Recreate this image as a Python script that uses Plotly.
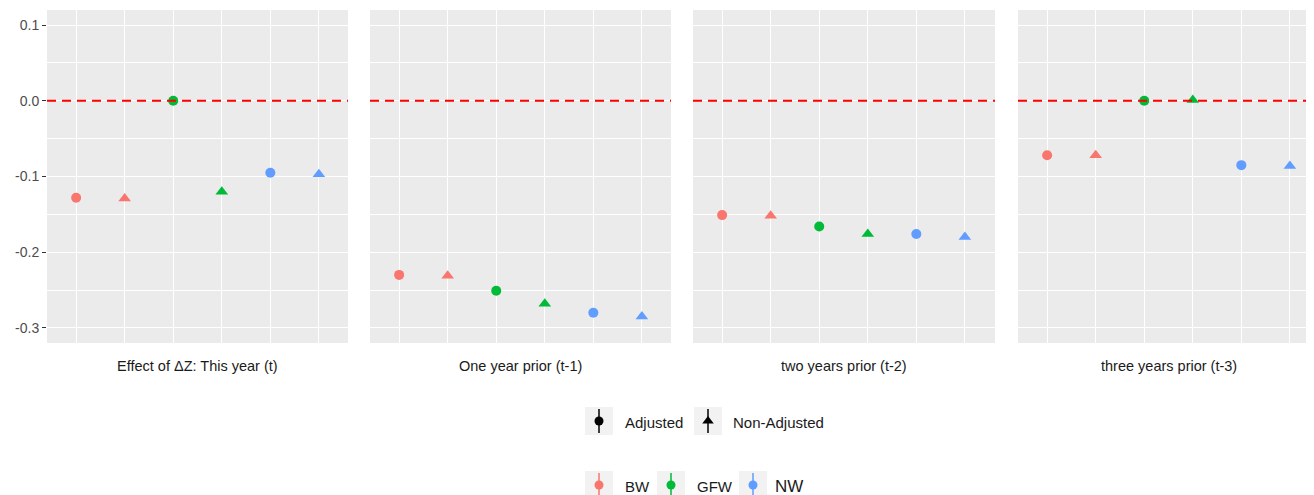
import plotly.graph_objects as go

# The page body adds an 8px margin; lay the figure out in reference pixels
# and shift by this offset.
OFF = 8
W, H = 1314 - OFF, 495 - OFF

panels = ["Effect of \u0394Z: This year (t)", "One year prior (t-1)",
          "two years prior (t-2)", "three years prior (t-3)"]
series = ["BW", "GFW", "NW"]
colors = {"BW": "#F8766D", "GFW": "#00BA38", "NW": "#619CFF"}
types = ["Adjusted", "Non-Adjusted"]

bw_adj = [-0.128, -0.230, -0.151, -0.072]
bw_non = [-0.129, -0.231, -0.152, -0.072]
gfw_adj = [0.000, -0.251, -0.166, 0.000]
gfw_non = [-0.120, -0.268, -0.176, 0.001]
nw_adj = [-0.095, -0.280, -0.176, -0.085]
nw_non = [-0.097, -0.285, -0.180, -0.086]

values = {
    ("BW", "Adjusted"): bw_adj, ("BW", "Non-Adjusted"): bw_non,
    ("GFW", "Adjusted"): gfw_adj, ("GFW", "Non-Adjusted"): gfw_non,
    ("NW", "Adjusted"): nw_adj, ("NW", "Non-Adjusted"): nw_non,
}
y_ticks = [0.1, 0.0, -0.1, -0.2, -0.3]
y_tick_text = ["0.1", "0.0", "-0.1", "-0.2", "-0.3"]
y_minor = [0.05, -0.05, -0.15, -0.25]

symbols = {"Adjusted": "circle", "Non-Adjusted": "triangle-up"}
sizes = {"Adjusted": 10, "Non-Adjusted": 11}

FONT = "Liberation Sans, Arial, sans-serif"


def fx(X):
    return X - OFF


def fy(Y):
    return Y - OFF


# panel pixel extents (reference pixels)
px_left = [47, 370, 693, 1018]
px_right = [348, 671, 995, 1314]
top_px, bot_px = 10, 343

fig = go.Figure()
layout = {}
for i, name in enumerate(panels):
    n = i + 1
    xa = "xaxis" if n == 1 else f"xaxis{n}"
    ya = "yaxis" if n == 1 else f"yaxis{n}"
    xr = "x" if n == 1 else f"x{n}"
    yr = "y" if n == 1 else f"y{n}"
    width_units = (px_right[i] - px_left[i]) / 48.55
    layout[xa] = dict(domain=[fx(px_left[i]) / W, min(1, fx(px_right[i]) / W)],
                      anchor=yr, range=[0.4, 0.4 + width_units],
                      tickvals=[1, 2, 3, 4, 5, 6],
                      showticklabels=False, ticks="", showgrid=True,
                      gridcolor="white", gridwidth=1.1, zeroline=False,
                      showline=False, fixedrange=True)
    layout[ya] = dict(domain=[1 - fy(bot_px) / H, 1 - fy(top_px) / H], anchor=xr,
                      range=[-0.32, 0.12], tickvals=y_ticks, ticktext=y_tick_text,
                      showticklabels=(n == 1), ticks="outside" if n == 1 else "",
                      ticklen=4, tickcolor="#333333", tickwidth=1,
                      tickfont=dict(family=FONT, size=14, color="#4D4D4D"),
                      showgrid=True, gridcolor="white", gridwidth=1.1,
                      minor=dict(tickvals=y_minor, showgrid=True,
                                 gridcolor="white", gridwidth=0.5, ticks=""),
                      zeroline=False, showline=False, fixedrange=True)
    # grey panel background
    fig.add_shape(type="rect", xref=f"{xr} domain", yref=f"{yr} domain",
                  x0=0, x1=1, y0=0, y1=1, fillcolor="#EBEBEB",
                  line=dict(width=0), layer="below")
    # dashed zero line
    fig.add_shape(type="line", xref=f"{xr} domain", yref=yr, x0=0, x1=1,
                  y0=0, y1=0, line=dict(color="#FF0000", width=2, dash="9px,6px"),
                  layer="above")
    # strip label (below panel)
    fig.add_annotation(text=name, xref=f"{xr} domain", yref="paper",
                       x=0.5 if n < 4 else (1018 + 151 - px_left[i]) / (px_right[i] - px_left[i]),
                       y=1 - fy(366) / H, showarrow=False, xanchor="center",
                       yanchor="middle",
                       font=dict(family=FONT, size=14.5, color="#1A1A1A"))
    k = 0
    for s in series:
        for t in types:
            k += 1
            fig.add_trace(go.Scatter(
                x=[k], y=[values[(s, t)][i]], mode="markers", xaxis=xr, yaxis=yr,
                marker=dict(symbol=symbols[t], size=sizes[t], color=colors[s],
                            line=dict(width=0)),
                name=f"{s} {t}", showlegend=False, hoverinfo="x+y+name"))

# legend overlay axis in reference pixel coordinates
layout["xaxis5"] = dict(domain=[0, 1], range=[OFF, OFF + W], anchor="y5",
                        visible=False, fixedrange=True)
layout["yaxis5"] = dict(domain=[0, 100 / H], range=[OFF + H, OFF + H - 100],
                        anchor="x5", visible=False, fixedrange=True)

legend_shape_rows = [
    # (box x0, label, symbol, color, text x, font size)
    (585, "Adjusted", "circle", "black", 623, 15),
    (694, "Non-Adjusted", "triangle-up", "black", 731, 15),
]
legend_color_rows = [
    (585, "BW", "circle", colors["BW"], 623, 15),
    (657, "GFW", "circle", colors["GFW"], 695, 15),
    (739, "NW", "circle", colors["NW"], 773, 17),
]
for rows, yc, ty in [(legend_shape_rows, 421, 422), (legend_color_rows, 485, 486)]:
    for (bx, lab, sym, col, tx, fs) in rows:
        fig.add_shape(type="rect", xref="x5", yref="y5", x0=bx, x1=bx + 28,
                      y0=yc - 14, y1=yc + 14, fillcolor="#F2F2F2",
                      line=dict(width=0), layer="below")
        fig.add_shape(type="line", xref="x5", yref="y5", x0=bx + 14, x1=bx + 14,
                      y0=yc - 12, y1=yc + 12, line=dict(color=col, width=1.5),
                      layer="above")
        fig.add_trace(go.Scatter(x=[bx + 14], y=[yc], mode="markers",
                                 xaxis="x5", yaxis="y5", showlegend=False,
                                 hoverinfo="skip",
                                 marker=dict(symbol=sym, size=9 if sym == "circle" else 10,
                                             color=col, line=dict(width=0))))
        fig.add_annotation(text=lab, xref="x5", yref="y5", x=tx, y=ty,
                           showarrow=False, xanchor="left", yanchor="middle",
                           font=dict(family=FONT, size=fs, color="#1A1A1A"))

fig.update_layout(width=W, height=H, margin=dict(l=0, r=0, t=0, b=0),
                  paper_bgcolor="white", plot_bgcolor="rgba(0,0,0,0)",
                  showlegend=False, font=dict(family=FONT), **layout)

fig.write_html("out.html")
